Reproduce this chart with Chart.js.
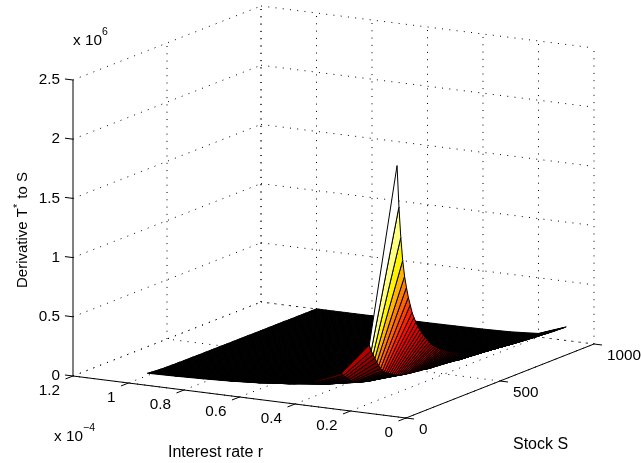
<!DOCTYPE html>
<html>
<head>
<meta charset="utf-8">
<title>Derivative of T* to S</title>
<script src="https://cdn.jsdelivr.net/npm/chart.js@4/dist/chart.umd.js"></script>
<style>
  html, body { margin: 0; background: #fff; }
  canvas { display: block; }
</style>
</head>
<body>
<canvas id="chart" width="642" height="463"></canvas>
<script>
// axis ticks
const rTicks = [1.2, 1, 0.8, 0.6, 0.4, 0.2, 0];
const rTickLabels = ["1.2", "1", "0.8", "0.6", "0.4", "0.2", "0"];
const sTicks = [0, 500, 1000];
const sTickLabels = ["0", "500", "1000"];
const zTicks = [0, 0.5, 1, 1.5, 2, 2.5];
const zTickLabels = ["0", "0.5", "1", "1.5", "2", "2.5"];

// surface grid, r in 1e-4
const rates = [0.1, 0.2, 0.3, 0.4, 0.5, 0.6, 0.7, 0.8, 0.9, 1];
const firstStock = 100, stockStep = 10;

// derivative, in 1e3, one list per rate, one entry per stock line
const zR1 = [2040,1685,1420,1220,1080,980,890,820,750,700,655,615,580,550,520,495,470,445,425,405,
  390,375,360,347,335,325,315,305,295,285,277,270,260,250,245,240,234,228,222,217,
  212,208,204,200,196,192,188,185,182,179,176,173,171,168,166,164,161,159,157,155,
  153,151,149,147,146,144,142,141,139,138,136,135,133,132,131,129,128,127,126,125,
  123,122,121,120,119,118,118,117,116,115,115];
const zR2 = [495,440,400,365,325,290,260,235,220,205,195,185,175,165,155,148,142,137,133,130,
  127,124,121,119,117,115,113,111,109,107,103,100,97,96,95,94,92,91,90,88,
  87,85,84,82,80,78,76,73,70,69,68,67,66,65,64,63,62,61,60,59,
  58,56,55,53,50,49,48,47,46,45,44,44,43,42,41,40,40,39,38,37,
  36,36,35,34,34,33,32,32,31,30,30];
const zR3 = [227,202,184,168,150,133,120,108,101,94,90,85,80,76,71,68,65,63,61,60,
  58,57,56,55,54,53,52,51,50,49,47,46,45,44,44,44,43,42,42,41,
  40,39,39,38,37,36,35,34,32,32,31,31,30,30,29,29,29,28,28,27,
  27,26,25,24,23,23,22,22,21,21,20,20,20,19,19,18,18,18,17,17,
  17,17,16,16,16,15,15,15,14,14,14];
const zR4 = [128,114,104,95,85,75,68,61,57,53,51,48,46,43,40,38,37,36,35,34,
  33,32,31,31,30,30,29,29,28,28,27,26,25,25,25,25,24,24,24,23,
  23,22,22,21,21,20,20,19,18,18,18,17,17,17,17,16,16,16,16,15,
  15,15,14,14,13,13,12,12,12,12,11,11,11,11,11,10,10,10,10,10,
  9,9,9,9,9,9,8,8,8,8,8];
const zR5 = [82,73,66,61,54,48,43,39,37,34,32,31,29,27,26,25,24,23,22,22,
  21,21,20,20,19,19,19,18,18,18,17,17,17,16,16,16,16,15,15,15,
  14,14,14,14,13,13,13,12,12,11,11,11,11,11,11,10,10,10,10,10,
  10,9,9,9,8,8,8,8,8,7,7,7,7,7,7,7,7,6,6,6,
  6,6,6,6,6,5,5,5,5,5,5];
const zR6 = [57,51,46,42,37,33,30,27,25,24,22,21,20,19,18,17,16,16,15,15,
  15,14,14,14,13,13,13,13,13,12,12,12,12,11,11,11,11,11,10,10,
  10,10,10,9,9,9,9,8,8,8,8,8,8,7,7,7,7,7,7,7,
  7,6,6,6,6,6,6,5,5,5,5,5,5,5,5,5,5,4,4,4,
  4,4,4,4,4,4,4,3,3,3,3];
const zR7 = [42,37,34,31,28,25,22,20,19,17,17,16,15,14,13,13,12,12,11,11,
  11,11,10,10,10,10,10,9,9,9,9,9,9,8,8,8,8,8,8,8,
  7,7,7,7,7,7,7,6,6,6,6,6,6,6,6,5,5,5,5,5,
  5,5,5,5,4,4,4,4,4,4,4,4,4,4,3,3,3,3,3,3,
  3,3,3,3,3,3,3,3,2,2,2];
const zR8 = [32,29,26,24,21,19,17,15,14,13,13,12,11,11,10,10,9,9,9,8,
  8,8,8,8,8,7,7,7,7,7,7,7,6,6,6,6,6,6,6,6,
  6,6,5,5,5,5,5,5,5,5,4,4,4,4,4,4,4,4,4,4,
  4,4,4,3,3,3,3,3,3,3,3,3,3,3,3,3,3,3,2,2,
  2,2,2,2,2,2,2,2,2,2,2];
const zR9 = [25,22,20,18,16,15,13,12,11,10,10,9,9,8,8,7,7,7,7,7,
  6,6,6,6,6,6,6,5,5,5,5,5,5,5,5,5,5,5,5,4,
  4,4,4,4,4,4,4,4,4,4,3,3,3,3,3,3,3,3,3,3,
  3,3,3,3,3,2,2,2,2,2,2,2,2,2,2,2,2,2,2,2,
  2,2,2,2,2,2,2,2,1,1,1];
const zR10 = [20,18,16,15,13,12,11,10,9,8,8,8,7,7,6,6,6,6,5,5,
  5,5,5,5,5,5,5,4,4,4,4,4,4,4,4,4,4,4,4,4,
  4,3,3,3,3,3,3,3,3,3,3,3,3,3,3,2,2,2,2,2,
  2,2,2,2,2,2,2,2,2,2,2,2,2,2,1,1,1,1,1,1,
  1,1,1,1,1,1,1,1,1,1,1];
const zByRate = [zR1, zR2, zR3, zR4, zR5, zR6, zR7, zR8, zR9, zR10];

// orthographic view of the box, in canvas units
function project(r, s, z) {
  const a = (1.2 - r) / 1.2, b = s / 1000;
  return { x: 73 + 333 * a + 188 * b, y: 376 + 42 * a - 74 * b - 296 * z / 2.5 };
}

// matlab hot(64), top of the colour range matched by eye
const colorMax = 1950;
function hot(v) {
  const k = Math.min(63, Math.floor(v / colorMax * 64)) + 1;
  const c = (t) => Math.round(255 * Math.max(0, Math.min(1, t)));
  return "rgb(" + c(k / 24) + "," + c((k - 24) / 24) + "," + c((k - 48) / 16) + ")";
}

function line(points, dotted, width) {
  return {
    data: points,
    showLine: true,
    fill: false,
    pointRadius: 0,
    borderColor: "#000",
    borderWidth: width || 1,
    borderDash: dotted ? [1, 6.3] : [],
    borderCapStyle: "butt"
  };
}

const datasets = [];

// faces, nearest first because Chart.js paints the first dataset last
const stockLines = zR1.length;
for (let j = 0; j < stockLines - 1; j++) {
  const s0 = firstStock + j * stockStep, s1 = s0 + stockStep;
  for (let i = 0; i < rates.length - 1; i++) {
    const r0 = rates[i], r1 = rates[i + 1];
    const p0 = project(r0, s0, zByRate[i][j] / 1000);
    datasets.push({
      data: [p0, project(r1, s0, zByRate[i + 1][j] / 1000),
        project(r1, s1, zByRate[i + 1][j + 1] / 1000),
        project(r0, s1, zByRate[i][j + 1] / 1000), p0],
      showLine: true,
      fill: "shape",
      pointRadius: 0,
      backgroundColor: hot(zByRate[i][j]),
      borderColor: "#000",
      borderWidth: 1,
      borderJoinStyle: "bevel"
    });
  }
}

// box axes and ticks
datasets.push(line([project(1.2, 0, 0), project(1.2, 0, 2.5)]));
datasets.push(line([project(1.2, 0, 0), project(0, 0, 0)]));
datasets.push(line([project(0, 0, 0), project(0, 1000, 0)]));
rTicks.forEach((r) => datasets.push(line([project(r, 0, 0), project(r, -40, 0)])));
sTicks.forEach((s) => datasets.push(line([project(0, s, 0), project(-0.029, s, 0)])));
zTicks.forEach((z) => datasets.push(line([project(1.2, 0, z), project(1.229, 0, z)])));

// dotted grid on floor and both back walls
rTicks.forEach((r) => {
  datasets.push(line([project(r, 0, 0), project(r, 1000, 0)], true));
  datasets.push(line([project(r, 1000, 0), project(r, 1000, 2.5)], true));
});
sTicks.forEach((s) => {
  datasets.push(line([project(0, s, 0), project(1.2, s, 0)], true));
  if (s > 0) datasets.push(line([project(1.2, s, 0), project(1.2, s, 2.5)], true));
});
zTicks.forEach((z) => {
  datasets.push(line([project(1.2, 0, z), project(1.2, 1000, z)], true));
  datasets.push(line([project(1.2, 1000, z), project(0, 1000, z)], true));
});

const FONT = "15.3px 'Liberation Sans'";
const TITLE = "16px 'Liberation Sans'";
const YTITLE = "15px 'Liberation Sans'";
const SMALL = "10.5px 'Liberation Sans'";

const labelPlugin = {
  id: "labels",
  afterDraw(chart) {
    const { ctx, scales: { x, y } } = chart;
    const put = (text, px, py, align, base, font) => {
      ctx.font = font || FONT;
      ctx.textAlign = align || "left";
      ctx.textBaseline = base || "alphabetic";
      ctx.fillText(text, px, py);
    };
    const at = (p) => ({ x: x.getPixelForValue(p.x), y: y.getPixelForValue(p.y) });
    ctx.save();
    ctx.fillStyle = "#000";
    zTicks.forEach((z, i) => {
      const p = at(project(1.2, 0, z));
      put(zTickLabels[i], p.x - 13, p.y, "right", "middle");
    });
    rTicks.forEach((r, i) => {
      const p = at(project(r, 0, 0));
      put(rTickLabels[i], p.x - 13, p.y + 15, "right", "middle");
    });
    sTicks.forEach((s, i) => {
      const p = at(project(0, s, 0));
      put(sTickLabels[i], p.x + 13, p.y + 12, "left", "middle");
    });
    put("x 10", 73, 45);
    put("6", 102, 35, "left", "alphabetic", SMALL);
    put("x 10", 54, 441);
    put("\u22124", 83, 431, "left", "alphabetic", SMALL);
    put("Interest rate r", 168, 457, "left", "alphabetic", TITLE);
    put("Stock S", 513, 449, "left", "alphabetic", TITLE);
    ctx.translate(27, 288);
    ctx.rotate(-Math.PI / 2);
    put("Derivative T", 0, 0, "left", "alphabetic", YTITLE);
    const w = ctx.measureText("Derivative T").width;
    put("*", w, -6, "left", "alphabetic", SMALL);
    put(" to S", w + ctx.measureText("*").width + 1, 0, "left", "alphabetic", YTITLE);
    ctx.restore();
  }
};

new Chart(document.getElementById("chart"), {
  type: "scatter",
  data: { datasets: datasets },
  options: {
    responsive: false,
    animation: false,
    events: [],
    layout: { padding: 0 },
    plugins: { legend: { display: false }, tooltip: { enabled: false } },
    scales: {
      x: { type: "linear", display: false, min: 0, max: 642 },
      y: { type: "linear", display: false, min: 0, max: 463, reverse: true }
    }
  },
  plugins: [labelPlugin]
});
</script>
</body>
</html>
